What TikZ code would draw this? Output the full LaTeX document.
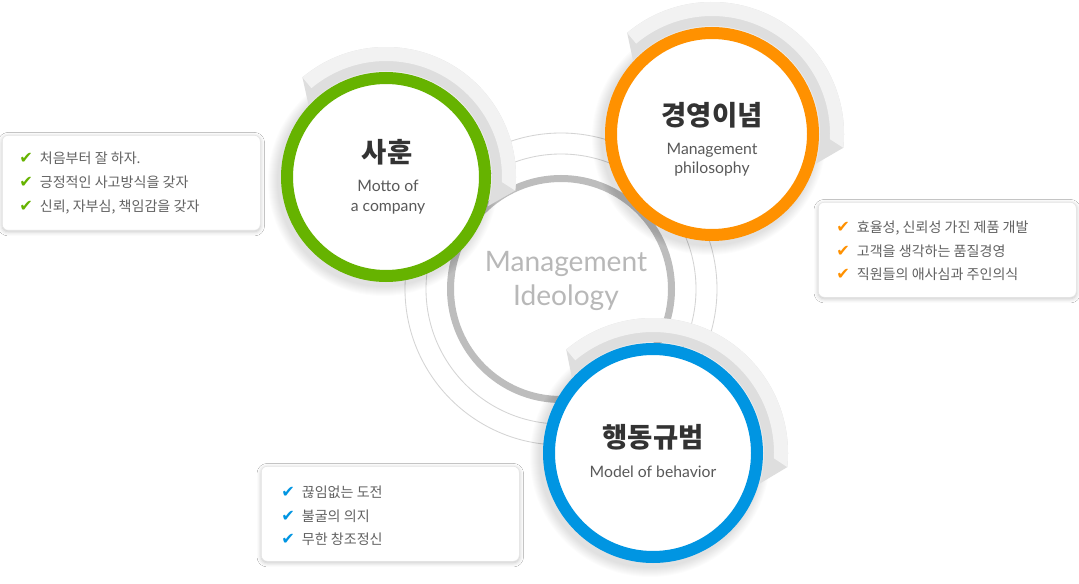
\documentclass[tikz,border=0pt]{standalone}
\usepackage{fontspec}
\setmainfont{Lato}
\newfontfamily\kr{Noto Sans CJK KR}
\newfontfamily\symfont{DejaVu Sans}
\usepackage{xcolor}
\usetikzlibrary{positioning,calc,shadows.blur}
\definecolor{mottogreen}{HTML}{66B300}
\definecolor{philorange}{HTML}{FF9100}
\definecolor{behavblue}{HTML}{0095E2}
\definecolor{ringgray}{HTML}{BDBDBD}
\newcommand{\pu}{0.025cm}
\newcommand{\tick}[1]{{\symfont\fontsize{11.5}{10}\selectfont\color{#1}\char"2714}\hspace{5pt}}
\tikzset{
  ring/.style={circle,fill=white,line width=12*\pu,inner sep=0pt},
  title/.style={font=\kr\bfseries\fontsize{19.5}{20}\selectfont,text=black!80},
  sub/.style={font=\fontsize{11.2}{13.8}\selectfont,text=black!65,align=center},
  listbox/.style={draw=black!10,fill=white,rounded corners=6*\pu,minimum width=258*\pu,minimum height=95*\pu,anchor=north west,
    blur shadow={shadow xshift=0pt,shadow yshift=-1pt,shadow blur radius=3pt,shadow opacity=25}},
  listtext/.style={font=\kr\fontsize{10}{17}\selectfont,text=black!62,align=left,anchor=west,inner sep=0pt},
  thin/.style={draw=black!17,line width=0.6pt}
}
% grey shell round a coloured ring: #1 centre, #2 outer radius of the ring
\newcommand{\shellband}[2]{%
  \begin{scope}[shift={(#1)}]
    \foreach \i in {1,...,10}
      \fill[black,opacity=0.012] (-3,-4) circle ({#2+\i});
    \fill[black!13] (137:{#2+1}) -- (130:{#2+25}) arc[start angle=130,end angle=-6,radius={#2+25}]
      -- (-16:{#2+1}) arc[start angle=-16,end angle=137,radius={#2+1}] -- cycle;
    \fill[black!5] (130:{#2+11}) -- (130:{#2+25}) arc[start angle=130,end angle=-6,radius={#2+25}]
      -- (-2.5:{#2+11}) arc[start angle=-2.5,end angle=130,radius={#2+11}] -- cycle;
  \end{scope}}

\begin{document}
\begin{tikzpicture}[x=\pu,y=\pu]
\useasboundingbox (0,0) rectangle (1079,-584);
\fill[white] (0,0) rectangle (1079,-584);
% centre
\coordinate (ideoc) at (561,-289);
\draw[thin] (ideoc) circle (156); \draw[thin] (ideoc) circle (135);
\node[circle,draw=ringgray,line width=7*\pu,fill=white,minimum size=221*\pu] (ideology) at (ideoc) {};
\node[font=\fontsize{20}{23.5}\selectfont,text=black!28,align=center] (ideotext) at (566,-281) {Management\\Ideology};
% three rings
\coordinate (mottoc) at (386,-177);
\coordinate (philoc) at (712,-134);
\coordinate (behavc) at (653,-453);
\shellband{mottoc}{105}
\node[ring,draw=mottogreen,minimum size=198*\pu] (motto) at (mottoc) {};
\shellband{philoc}{107}
\node[ring,draw=philorange,minimum size=202*\pu] (philo) at (philoc) {};
\shellband{behavc}{110}
\node[ring,draw=behavblue,minimum size=208*\pu] (behav) at (behavc) {};
\node[title] (mottotitle) at (387,-152) {사훈};
\node[sub] (mottosub) at (388,-197) {Motto of\\a company};
\node[title] (philotitle) at (712,-115) {경영이념};
\node[sub] (philosub) at (712,-160) {Management\\philosophy};
\node[title] (behavtitle) at (653,-437) {행동규범};
\node[sub] (behavsub) at (653,-472) {Model of behavior};
% lists
\node[listbox] (mottobox) at (2,-135) {};
\node[listtext] (mottolist) at ([xshift=17*\pu]mottobox.west) {\tick{mottogreen}처음부터 잘 하자.\\\tick{mottogreen}긍정적인 사고방식을 갖자\\\tick{mottogreen}신뢰, 자부심, 책임감을 갖자};
\node[listbox] (philobox) at (818,-202) {};
\node[listtext] (philolist) at ([xshift=18*\pu,yshift=-1*\pu]philobox.west) {\tick{philorange}효율성, 신뢰성 가진 제품 개발\\\tick{philorange}고객을 생각하는 품질경영\\\tick{philorange}직원들의 애사심과 주인의식};
\node[listbox] (behavbox) at (261,-466) {};
\node[listtext] (behavlist) at ([xshift=20*\pu,yshift=-2*\pu]behavbox.west) {\tick{behavblue}끊임없는 도전\\\tick{behavblue}불굴의 의지\\\tick{behavblue}무한 창조정신};
\end{tikzpicture}
\end{document}
